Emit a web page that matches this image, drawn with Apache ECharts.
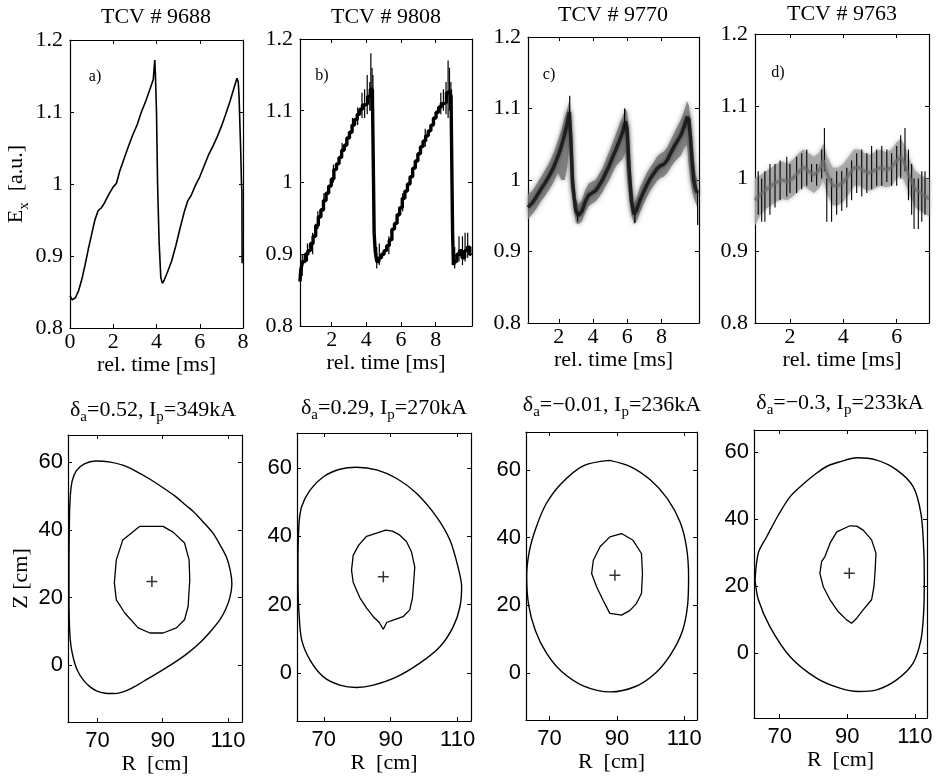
<!DOCTYPE html>
<html><head><meta charset="utf-8">
<script src="https://cdn.jsdelivr.net/npm/echarts@6/dist/echarts.min.js"></script>
<style>html,body{margin:0;padding:0;background:#fff}#c{width:937px;height:776px}</style>
</head><body><div id="c"></div>
<script>
// ---------------- DATA ----------------
const topTitles = ['TCV # 9688', 'TCV # 9808', 'TCV # 9770', 'TCV # 9763'];
const panelLetters = ['a)', 'b)', 'c)', 'd)'];
const deltaA = ['0.52', '0.29', '\u22120.01', '\u22120.3'];
const plasmaCurrent = ['349', '270', '236', '233'];

const timeRanges = [[0, 8], [0.17, 10.1], [0.2, 10.2], [0.69, 7.21]];
const timeTicks = [[0, 2, 4, 6, 8], [2, 4, 6, 8], [2, 4, 6, 8], [2, 4, 6]];
const exRange = [0.8, 1.2];
const exTicks = [0.8, 0.9, 1, 1.1, 1.2];

const rRanges = [[61, 114.3], [62, 114], [63, 113.8], [62.4, 113.6]];
const zRanges = [[-16.8, 68], [-14, 70.2], [-13.9, 71.2], [-19.4, 66.6]];
const rTicks = [70, 90, 110];
const zTicks = [0, 20, 40, 60];

// panel a: [t, Ex]
const aSignal = [[0,0.845],[0.1,0.839],[0.25,0.842],[0.4,0.852],[0.55,0.868],[0.7,0.888],[0.85,0.91],[1.0,0.93],[1.15,0.95],[1.3,0.963],[1.45,0.967],[1.6,0.974],[1.8,0.986],[2.0,0.996],[2.15,1.001],[2.3,1.018],[2.5,1.035],[2.7,1.052],[2.9,1.068],[3.1,1.082],[3.3,1.1],[3.5,1.115],[3.7,1.132],[3.85,1.145],[3.92,1.172],[3.95,1.152],[4.0,1.1],[4.05,1.0],[4.12,0.92],[4.2,0.87],[4.27,0.862],[4.35,0.866],[4.5,0.877],[4.7,0.893],[4.9,0.915],[5.1,0.94],[5.3,0.963],[5.45,0.977],[5.6,0.984],[5.8,0.998],[6.0,1.01],[6.2,1.025],[6.4,1.04],[6.6,1.052],[6.8,1.065],[7.0,1.08],[7.2,1.097],[7.4,1.115],[7.6,1.135],[7.72,1.147],[7.78,1.142],[7.82,1.12],[7.86,1.08],[7.9,1.04],[7.93,1.0],[7.95,0.99],[7.96,0.89]];

// panel b: [t, Ex] staircase + spikes [t, low, high]
const bSignal = [[0.17,0.862],[0.25,0.878],[0.4,0.89],[0.55,0.9],[0.7,0.905],[0.85,0.915],[1.0,0.925],[1.15,0.94],[1.3,0.952],[1.45,0.962],[1.6,0.975],[1.75,0.985],[1.9,0.995],[2.05,1.005],[2.2,1.018],[2.35,1.026],[2.5,1.035],[2.65,1.045],[2.8,1.052],[2.95,1.062],[3.1,1.07],[3.25,1.08],[3.4,1.088],[3.55,1.095],[3.7,1.102],[3.85,1.108],[4.0,1.11],[4.15,1.12],[4.3,1.13],[4.4,1.125],[4.43,1.0],[4.47,0.93],[4.55,0.905],[4.65,0.89],[4.8,0.895],[4.95,0.9],[5.1,0.905],[5.25,0.912],[5.4,0.92],[5.55,0.935],[5.7,0.943],[5.85,0.955],[6.0,0.965],[6.15,0.978],[6.3,0.988],[6.45,0.998],[6.6,1.008],[6.75,1.02],[6.9,1.03],[7.05,1.04],[7.2,1.05],[7.35,1.058],[7.5,1.065],[7.65,1.072],[7.8,1.08],[7.95,1.09],[8.1,1.098],[8.25,1.105],[8.4,1.11],[8.55,1.112],[8.7,1.125],[8.85,1.128],[8.93,1.12],[8.96,1.0],[9.0,0.93],[9.05,0.885],[9.15,0.89],[9.3,0.9],[9.45,0.905],[9.6,0.895],[9.75,0.905],[9.9,0.91],[10.05,0.9]];
const bSpikes = [[0.3,0.87,0.9],[0.6,0.89,0.915],[0.9,0.9,0.93],[1.2,0.935,0.96],[1.55,0.96,0.985],[2.1,1.0,1.025],[2.6,1.035,1.055],[3.2,1.07,1.09],[3.5,1.08,1.105],[3.75,1.09,1.125],[3.9,1.09,1.13],[4.05,1.095,1.15],[4.2,1.1,1.14],[4.26,1.1,1.18],[4.33,1.08,1.16],[4.38,1.01,1.15],[4.6,0.88,0.91],[4.75,0.885,0.915],[5.3,0.9,0.925],[6.1,0.96,0.985],[7.4,1.05,1.075],[8.3,1.095,1.125],[8.45,1.1,1.13],[8.6,1.095,1.14],[8.72,1.09,1.17],[8.8,1.1,1.16],[8.88,1.08,1.14],[8.92,1.05,1.13],[9.1,0.88,0.91],[9.35,0.89,0.925],[9.55,0.885,0.925],[9.7,0.89,0.93],[9.85,0.895,0.93]];

// panel c: [t, centre, low, high]
const cBand = [[0.2,0.962,0.945,0.98],[0.45,0.968,0.952,0.985],[0.7,0.977,0.96,0.994],[0.95,0.987,0.97,1.004],[1.2,0.996,0.978,1.014],[1.45,1.006,0.987,1.025],[1.7,1.018,0.997,1.038],[1.95,1.033,1.01,1.055],[2.15,1.047,1.0,1.07],[2.35,1.065,1.0,1.088],[2.5,1.08,1.02,1.1],[2.62,1.095,1.05,1.112],[2.7,1.06,0.99,1.09],[2.8,1.0,0.975,1.06],[2.9,0.975,0.955,1.0],[3.0,0.957,0.94,0.975],[3.15,0.95,0.938,0.965],[3.35,0.956,0.942,0.972],[3.55,0.97,0.955,0.986],[3.75,0.979,0.964,0.995],[3.95,0.982,0.967,0.998],[4.15,0.985,0.97,1.0],[4.35,0.992,0.976,1.008],[4.55,1.0,0.983,1.016],[4.75,1.01,0.992,1.028],[4.95,1.02,1.0,1.04],[5.15,1.032,1.01,1.052],[5.35,1.043,1.02,1.065],[5.55,1.055,1.025,1.078],[5.75,1.068,1.03,1.09],[5.9,1.082,1.04,1.1],[6.0,1.07,1.0,1.095],[6.1,1.02,0.98,1.07],[6.25,0.97,0.95,1.0],[6.4,0.952,0.938,0.968],[6.55,0.958,0.942,0.975],[6.75,0.972,0.955,0.99],[6.95,0.983,0.966,1.0],[7.15,0.993,0.976,1.01],[7.35,1.002,0.985,1.018],[7.55,1.009,0.992,1.025],[7.75,1.016,0.999,1.033],[7.95,1.02,1.003,1.037],[8.15,1.022,1.005,1.04],[8.35,1.028,1.01,1.046],[8.55,1.038,1.018,1.056],[8.75,1.047,1.025,1.066],[8.95,1.055,1.03,1.076],[9.15,1.063,1.035,1.085],[9.35,1.076,1.045,1.098],[9.5,1.088,1.05,1.11],[9.6,1.085,1.02,1.105],[9.7,1.06,1.0,1.09],[9.8,1.025,0.985,1.06],[9.9,0.998,0.975,1.03],[10.0,0.988,0.968,1.008],[10.1,0.982,0.962,1.0]];
const cSpikes = [[2.64,1.085,1.118],[3.1,0.942,0.956],[5.85,1.07,1.1],[6.45,0.94,0.952],[10.12,0.937,0.985]];

// panel d: [t, centre, low, high] + spikes
const dBand = [[0.69,0.97,0.935,1.0],[0.9,0.978,0.95,1.005],[1.1,0.985,0.958,1.01],[1.3,0.99,0.963,1.015],[1.5,0.995,0.968,1.02],[1.7,0.998,0.972,1.024],[1.9,0.995,0.97,1.02],[2.1,1.0,0.975,1.026],[2.3,1.008,0.982,1.034],[2.5,1.016,0.99,1.04],[2.7,1.01,0.985,1.035],[2.9,1.005,0.98,1.03],[3.1,1.012,0.987,1.036],[3.25,1.025,0.998,1.048],[3.4,1.005,0.978,1.03],[3.6,0.99,0.963,1.015],[3.8,0.99,0.963,1.015],[4.0,0.995,0.968,1.02],[4.2,1.005,0.978,1.03],[4.4,1.015,0.99,1.04],[4.6,1.015,0.99,1.04],[4.8,1.01,0.985,1.035],[5.0,1.008,0.983,1.033],[5.2,1.012,0.987,1.037],[5.4,1.015,0.99,1.04],[5.6,1.012,0.988,1.036],[5.8,1.015,0.99,1.04],[6.0,1.025,1.0,1.05],[6.15,1.03,1.005,1.055],[6.3,1.02,0.995,1.045],[6.5,1.0,0.975,1.025],[6.7,0.985,0.96,1.01],[6.9,0.98,0.955,1.005],[7.1,0.975,0.95,1.0],[7.21,0.972,0.948,0.998]];
const dSpikes = [[0.81,0.95,1.01],[0.94,0.94,1.0],[1.06,0.94,1.01],[1.25,0.95,1.02],[1.44,0.96,1.02],[1.63,0.97,1.025],[1.88,0.975,1.03],[2.0,0.98,1.02],[2.25,0.98,1.03],[2.44,0.985,1.035],[2.63,0.99,1.04],[2.81,0.995,1.02],[3.0,0.99,1.02],[3.19,1.0,1.04],[3.29,1.01,1.07],[3.38,0.94,1.0],[3.56,0.94,1.0],[3.75,0.95,1.01],[3.94,0.955,1.01],[4.13,0.96,1.015],[4.31,0.97,1.025],[4.5,0.98,1.035],[4.69,0.975,1.04],[4.88,0.98,1.035],[5.06,0.985,1.045],[5.25,0.99,1.04],[5.44,0.99,1.045],[5.63,0.995,1.04],[5.81,0.99,1.035],[6.0,0.99,1.045],[6.15,1.0,1.06],[6.31,1.01,1.07],[6.44,0.97,1.04],[6.56,0.95,1.02],[6.65,0.93,1.0],[6.81,0.93,1.0],[6.94,0.94,1.01],[7.06,0.95,1.01]];

// flux-surface contours [R, Z] (cm)
const eOuter = [[61.7,50],[62.3,54.5],[63.6,57.5],[66,59.5],[69.5,60.3],[74,60],[78,59],[82,57.2],[86,55],[90,52.5],[94,49.8],[97,47.3],[99.3,45.5],[102.5,42.2],[105.4,39],[107.6,35.5],[109.5,32],[110.7,28],[111.2,24],[110.6,20],[109.3,16.5],[107.5,13.4],[104.5,9.8],[101.4,6.6],[97.5,3.4],[93.2,0.5],[89,-2],[85,-4.3],[81.5,-6.3],[78.5,-7.7],[75.5,-8.4],[72.5,-8.3],[69.7,-7.6],[67.5,-6.2],[65.6,-4.3],[64,-1.8],[63,0.8],[62.2,4],[61.7,7.5],[61.4,13],[61.3,20],[61.3,30],[61.4,40],[61.5,46],[61.7,50]];
const eInner = [[82.9,41],[77.8,37],[75.8,31.1],[75.2,24.3],[75.8,19.3],[78.4,15.4],[82.5,11],[86.1,9.5],[90.1,9.5],[94.2,11],[96.7,13.4],[97.8,17.4],[98.3,25.2],[98.1,31.1],[96.7,36.1],[93.2,39.3],[90.1,41],[82.9,41]];
const fOuter = [[62.6,44],[63.4,48.7],[65.9,53.5],[69.9,57.4],[74.8,59.6],[79.8,60.2],[85.8,59.4],[91.8,56.9],[97.7,52.6],[103.7,45.7],[107.7,38.9],[110.1,31.1],[111.2,25.3],[110.7,19.4],[108.7,13.6],[104.7,7.7],[98.7,2.9],[91.8,-1.1],[84.8,-3.5],[79.8,-4.2],[74.8,-3.5],[69.9,-1.1],[65.9,3.8],[63.4,9.7],[62.6,17.5],[62.3,25],[62.3,35],[62.6,44]];
const fInner = [[85.8,40.9],[82.8,40],[80.5,37.5],[78.8,34.5],[78.3,30.1],[78.8,26.5],[80.8,22],[82.8,19],[84.8,16.5],[86.6,14.8],[87.8,12.8],[88.8,14.8],[90.7,15.5],[93.7,16.5],[95.7,18.5],[96.5,22],[96.9,27],[97.2,31],[96.2,35.5],[94.7,38.5],[92.5,40.5],[90.5,41.5],[88.5,41.8],[85.8,40.9]];
const gOuter = [[87.8,62.8],[80,61.2],[73.5,56],[69,50],[66,43],[64,36],[63.2,28.5],[63.8,20],[65.8,12.5],[69,6],[73.5,0.5],[80,-3.8],[88,-5.6],[95.5,-4],[101.5,0],[106,5.5],[109.5,12.5],[111,20],[111.3,28.5],[110.7,37],[108.8,44.5],[105,51.5],[100,57],[94,61],[87.8,62.8]];
const gInner = [[87.9,40.2],[91.4,41.2],[94.8,39.2],[97.3,35.3],[97.6,29.4],[97.3,23.5],[95.8,20.5],[93.9,18.5],[91.4,17.1],[87.9,17.6],[85.9,21.5],[84,25.4],[82.5,29.4],[83,33.3],[85,37.3],[87.9,40.2]];
const hOuter = [[62.7,21.8],[63.7,30],[66.2,34.8],[69.5,41],[73.1,46.7],[77,50.5],[80.9,53.7],[84.5,56],[87.8,57.1],[92.8,58.3],[98.7,57.6],[104.6,54.7],[109.5,49.7],[111.8,41.7],[112.6,31.8],[112.8,21.8],[112.6,11.9],[111.8,3.9],[109.5,-3],[104.6,-8],[98.7,-11],[93.3,-11.5],[87.8,-10.5],[80.9,-7.5],[73.1,-1.1],[67.1,7.9],[63.7,15.9],[62.7,21.8]];
const hInner = [[90.8,38],[86.9,36.2],[84.9,32.8],[83.4,28.8],[82.4,27.3],[81.9,23.8],[82.9,19.8],[84.9,15.9],[87.3,12.4],[89.8,9.9],[91.3,8.9],[92.8,10.4],[94.7,12.9],[97.2,15.9],[97.9,19.8],[98.2,23.8],[98.5,29.8],[97.2,33.8],[94.7,36.7],[92.8,37.9],[90.8,38]];
const magneticAxis = [[86.7,24.7],[87.8,28.2],[89.4,28.9],[90.6,23.8]];

// ---------------- LAYOUT ----------------
const SERIF = '"Liberation Serif","Times New Roman",serif';
const SANS = '"Liberation Sans",Arial,sans-serif';
const grids = [
  {left:70, top:40, width:173, height:288},
  {left:300, top:39, width:172, height:287},
  {left:528, top:37, width:171, height:286},
  {left:755, top:34, width:174, height:289},
  {left:68, top:435, width:174, height:287},
  {left:297, top:433, width:174, height:288},
  {left:526, top:432, width:171, height:288},
  {left:754, top:430, width:173, height:288}
];
const subRich = {
  m: {fontFamily: SERIF, fontSize: 22, lineHeight: 26, verticalAlign: 'top', color: '#000'},
  s: {fontFamily: SERIF, fontSize: 15, lineHeight: 15, verticalAlign: 'bottom', color: '#000'}
};
const axLine = {show: true, onZero: false, lineStyle: {color: '#000', width: 1.2}};

const xAxes = [], yAxes = [];
function addAxes(gi, xr, xt, yr, yt, font, xLabMargin, yLabMargin, xName, xNameGap, yName, yNameGap, yFormatter) {
  xAxes.push({gridIndex: gi, type: 'value', min: xr[0], max: xr[1], position: 'bottom',
    axisLine: axLine, splitLine: {show: false},
    axisTick: {show: true, inside: true, length: 4, customValues: xt, lineStyle: {color: '#000'}},
    axisLabel: {customValues: xt, margin: xLabMargin, color: '#000', fontFamily: font, fontSize: 22},
    name: xName, nameLocation: 'middle', nameGap: xNameGap,
    nameTextStyle: {color: '#000', fontFamily: SERIF, fontSize: 22}});
  xAxes.push({gridIndex: gi, type: 'value', min: xr[0], max: xr[1], position: 'top',
    axisLine: axLine, splitLine: {show: false},
    axisTick: {show: true, inside: true, length: 4, customValues: xt, lineStyle: {color: '#000'}},
    axisLabel: {show: false}});
  yAxes.push({gridIndex: gi, type: 'value', min: yr[0], max: yr[1], position: 'left',
    axisLine: axLine, splitLine: {show: false},
    axisTick: {show: true, inside: true, length: 4, customValues: yt, lineStyle: {color: '#000'}},
    axisLabel: {customValues: yt, margin: yLabMargin, color: '#000', fontFamily: font, fontSize: 22, formatter: yFormatter},
    name: yName, nameLocation: 'middle', nameGap: yNameGap,
    nameTextStyle: {color: '#000', fontFamily: SERIF, fontSize: 22, rich: subRich}});
  yAxes.push({gridIndex: gi, type: 'value', min: yr[0], max: yr[1], position: 'right',
    axisLine: axLine, splitLine: {show: false},
    axisTick: {show: true, inside: true, length: 4, customValues: yt, lineStyle: {color: '#000'}},
    axisLabel: {show: false}});
}
for (let i = 0; i < 4; i++) {
  addAxes(i, timeRanges[i], timeTicks[i], exRange, exTicks, SERIF, 3, 7,
    'rel. time [ms]', 25, i === 0 ? '{m|E}{s|x}{m|  [a.u.]}' : '', 38, v => String(+v.toFixed(2)));
}
for (let i = 0; i < 4; i++) {
  addAxes(4 + i, rRanges[i], rTicks, zRanges[i], zTicks, SANS, 8, 5,
    'R  [cm]', 28, i === 0 ? 'Z [cm]' : '', 36, v => String(v));
}

const series = [];
function lineS(pi, data, width, extra) {
  return Object.assign({type: 'line', xAxisIndex: 2 * pi, yAxisIndex: 2 * pi, data: data,
    symbol: 'none', showSymbol: false, lineStyle: {color: '#000', width: width}, silent: true}, extra || {});
}
function spikeS(pi, data, color, width) {
  return {type: 'custom', xAxisIndex: 2 * pi, yAxisIndex: 2 * pi, data: data, encode: {x: 0, y: [1, 2]}, silent: true,
    renderItem: (params, api) => {
      const p1 = api.coord([api.value(0), api.value(1)]);
      const p2 = api.coord([api.value(0), api.value(2)]);
      return {type: 'line', shape: {x1: p1[0], y1: p1[1], x2: p2[0], y2: p2[1]}, style: {stroke: color, lineWidth: width}};
    }};
}
function bandS(pi, band, fill, blur) {
  return {type: 'custom', xAxisIndex: 2 * pi, yAxisIndex: 2 * pi, data: band, encode: {x: 0, y: [2, 3]}, silent: true,
    renderItem: (params, api) => {
      if (params.dataIndex !== 0) return null;
      const pts = [];
      for (let k = 0; k < band.length; k++) pts.push(api.coord([band[k][0], band[k][3]]));
      for (let k = band.length - 1; k >= 0; k--) pts.push(api.coord([band[k][0], band[k][2]]));
      return {type: 'polygon', shape: {points: pts}, style: {fill: fill, shadowBlur: blur, shadowColor: fill}};
    }};
}
// top row
series.push(lineS(0, aSignal, 1.6));
series.push(lineS(1, bSignal, 3.4, {step: 'middle'}));
series.push(spikeS(1, bSpikes, '#000', 1.2));
series.push(bandS(2, cBand, 'rgba(120,120,120,0.85)', 5));
series.push(lineS(2, cBand.map(p => [p[0], p[1]]), 3.5, {lineStyle: {color: 'rgba(20,20,20,0.85)', width: 3.5, shadowBlur: 4, shadowColor: 'rgba(0,0,0,0.6)'}}));
series.push(spikeS(2, cSpikes, '#000', 1.2));
series.push(bandS(3, dBand, 'rgba(165,165,165,0.9)', 4));
series.push(lineS(3, dBand.map(p => [p[0], p[1]]), 3, {lineStyle: {color: 'rgba(110,110,110,0.7)', width: 3, shadowBlur: 3, shadowColor: 'rgba(90,90,90,0.6)'}}));
series.push(spikeS(3, dSpikes, '#000', 1.1));
// bottom row
const outers = [eOuter, fOuter, gOuter, hOuter];
const inners = [eInner, fInner, gInner, hInner];
for (let i = 0; i < 4; i++) {
  series.push(lineS(4 + i, outers[i], 1.4, {smooth: 0.3}));
  series.push(lineS(4 + i, inners[i], 1.3));
  series.push({type: 'scatter', xAxisIndex: 2 * (4 + i), yAxisIndex: 2 * (4 + i), data: [magneticAxis[i]], silent: true,
    symbol: 'path://M-1.1,-8L1.1,-8L1.1,8L-1.1,8ZM-8,-1.1L8,-1.1L8,1.1L-8,1.1Z', symbolSize: 11,
    itemStyle: {color: '#000'}});
}

// text annotations
const graphic = [];
const titlePos = [[156, 17], [386, 17], [613, 15], [842, 14]];
const letterPos = [[95, 77], [322, 76], [549, 75], [778, 73]];
const shapePos = [[153, 412], [384, 410], [612, 407], [840, 405]];
for (let i = 0; i < 4; i++) {
  graphic.push({type: 'text', x: titlePos[i][0], y: titlePos[i][1], silent: true,
    style: {text: topTitles[i], font: '22px ' + SERIF, fill: '#000', align: 'center', verticalAlign: 'middle'}});
  graphic.push({type: 'text', x: letterPos[i][0], y: letterPos[i][1], silent: true,
    style: {text: panelLetters[i], font: '16px ' + SERIF, fill: '#000', align: 'center', verticalAlign: 'middle'}});
  graphic.push({type: 'text', x: shapePos[i][0], y: shapePos[i][1], silent: true,
    style: {text: '{m|\u03b4}{s|a}{m|=' + deltaA[i] + ', I}{s|p}{m|=' + plasmaCurrent[i] + 'kA}', rich: subRich,
      align: 'center', verticalAlign: 'middle'}});
}

const chart = echarts.init(document.getElementById('c'), null, {renderer: 'canvas'});
chart.setOption({
  animation: false,
  backgroundColor: '#fff',
  grid: grids,
  xAxis: xAxes,
  yAxis: yAxes,
  series: series,
  graphic: graphic
});
</script></body></html>
